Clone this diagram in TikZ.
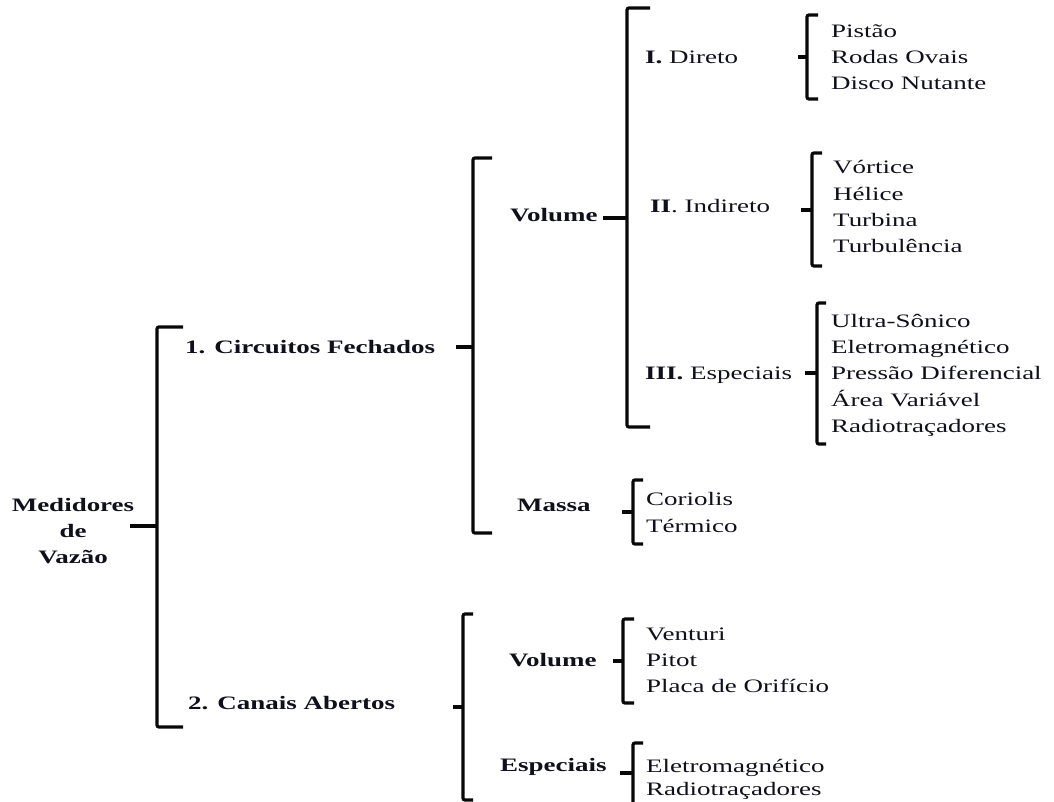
\documentclass[tikz,border=0pt]{standalone}
\usepackage{fontspec}
\setmainfont{Liberation Serif}[FakeStretch=1.42]
\usepackage{xcolor}
\usepackage{tikz}

\begin{document}
\begin{tikzpicture}[x=1pt,y=-1pt,
  brk/.style={line width=3.2pt,lline,rounded corners=2pt},
  lbl/.style={anchor=base west,inner sep=0pt,font=\fontsize{19}{26}\selectfont\bfseries\color{ltext}},
  itm/.style={anchor=base west,inner sep=0pt,font=\fontsize{19}{26}\selectfont\color{ltext}}]
  \definecolor{ltext}{RGB}{16,16,28}
  \definecolor{lline}{RGB}{8,8,8}
  \useasboundingbox[fill=white] (0,0) rectangle (1054,802);
  % root
  \node[lbl,anchor=north,align=center] (med) at (73,498) {Medidores\\de\\Vazão};
  \draw[brk] (183,327) -- (157,327) -- (157,727) -- (183,727);
  \draw[brk] (130,526) -- (157,526);
  % 1. circuitos fechados
  \node[lbl] (circ) at (185,353) {1. Circuitos Fechados};
  \draw[brk] (492,158) -- (473,158) -- (473,533) -- (492,533);
  \draw[brk] (456,347) -- (473,347);
  \node[lbl] (vol) at (510,222) {Volume};
  \draw[brk] (650,8) -- (627,8) -- (627,427) -- (650,427);
  \draw[brk] (603,218) -- (627,218);
  \node[itm] (dir) at (645,64) {\bfseries I.\mdseries{} Direto};
  \node[itm] (ind) at (650,213) {\bfseries II\mdseries. Indireto};
  \node[itm] (esp) at (645,379) {\bfseries III.\mdseries{} Especiais};
  % direto
  \draw[brk] (818,15) -- (807,15) -- (807,99) -- (818,99);
  \draw[brk] (798,57) -- (807,57);
  \node[itm] (pistao) at (831,38) {Pistão};
  \node[itm] (rodas) at (831,64) {Rodas Ovais};
  \node[itm] (disco) at (831,90) {Disco Nutante};
  % indireto
  \draw[brk] (822,153) -- (812,153) -- (812,266) -- (822,266);
  \draw[brk] (801,210) -- (812,210);
  \node[itm] (vortice) at (833,174) {Vórtice};
  \node[itm] (helice) at (833,201) {Hélice};
  \node[itm] (turbina) at (833,227) {Turbina};
  \node[itm] (turbul) at (833,253) {Turbulência};
  % especiais
  \draw[brk] (826,303) -- (817,303) -- (817,444) -- (826,444);
  \draw[brk] (805,373) -- (817,373);
  \node[itm] (ultra) at (831,327) {Ultra-Sônico};
  \node[itm] (eletro) at (831,353) {Eletromagnético};
  \node[itm] (pressao) at (831,379) {Pressão Diferencial};
  \node[itm] (area) at (831,406) {Área Variável};
  \node[itm] (radio) at (831,432) {Radiotraçadores};
  % massa
  \node[lbl] (massa) at (517,511) {Massa};
  \draw[brk] (643,480) -- (633,480) -- (633,544) -- (643,544);
  \draw[brk] (622,512) -- (633,512);
  \node[itm] (coriolis) at (646,505) {Coriolis};
  \node[itm] (termico) at (646,532) {Térmico};
  % 2. canais abertos
  \node[lbl] (canais) at (188,709) {2. Canais Abertos};
  \draw[brk] (473,614) -- (463,614) -- (463,800) -- (473,800);
  \draw[brk] (453,707) -- (463,707);
  \node[lbl] (vol2) at (509,666) {Volume};
  \draw[brk] (634,619) -- (623,619) -- (623,703) -- (634,703);
  \draw[brk] (613,661) -- (623,661);
  \node[itm] (venturi) at (646,640) {Venturi};
  \node[itm] (pitot) at (646,666) {Pitot};
  \node[itm] (placa) at (646,692) {Placa de Orifício};
  \node[lbl] (esp2) at (500,771) {Especiais};
  \draw[brk] (643,743) -- (633,743) -- (633,812);
  \draw[brk] (620,773) -- (633,773);
  \node[itm] (eletro2) at (646,772) {Eletromagnético};
  \node[itm] (radio2) at (646,795) {Radiotraçadores};
\end{tikzpicture}
\end{document}
